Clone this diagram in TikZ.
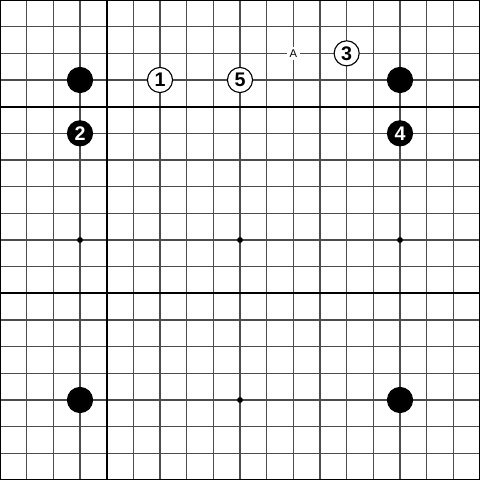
\documentclass[tikz,border=0pt]{standalone}
\usepackage{fontspec}
\setmainfont{Liberation Sans}
\begin{document}
\begin{tikzpicture}[x=0.5cm, y=0.5cm,
  gridline/.style={draw=black!70, line width=0.6pt},
  boldline/.style={draw=black, line width=1.1pt},
  stone/.style={circle, draw=black, line width=0.6pt, minimum size=4.7mm, inner sep=0pt, font=\fontsize{10.5}{11}\selectfont\bfseries},
  wstone/.style={stone, fill=white, text=black},
  bstone/.style={stone, fill=black, text=white},
  hoshi/.style={circle, fill=black, minimum size=1.1mm, inner sep=0pt},
  letter/.style={fill=white, inner sep=1.5pt, font=\fontsize{6}{6}\selectfont}]
  \useasboundingbox (0,0) rectangle (18,18);
  \fill[white] (0,0) rectangle (18,18);
  \foreach \i in {0,...,18} {
    \draw[gridline] (\i,0) -- (\i,18);
    \draw[gridline] (0,\i) -- (18,\i);
  }
  \draw[boldline] (4,0) -- (4,18);
  \draw[boldline] (0,14) -- (18,14);
  \draw[boldline] (0,7) -- (18,7);
  \draw[boldline] (0,0) rectangle (18,18);
  % star points
  \node[hoshi] (h1) at (3,9) {};
  \node[hoshi] (h2) at (9,9) {};
  \node[hoshi] (h3) at (15,9) {};
  \node[hoshi] (h4) at (9,3) {};
  % corner stones
  \node[bstone] (b1) at (3,15) {};
  \node[bstone] (b2) at (15,15) {};
  \node[bstone] (b3) at (3,3) {};
  \node[bstone] (b4) at (15,3) {};
  % numbered moves
  \node[wstone] (m1) at (6,15) {1};
  \node[bstone] (m2) at (3,13) {2};
  \node[wstone] (m3) at (13,16) {3};
  \node[bstone] (m4) at (15,13) {4};
  \node[wstone] (m5) at (9,15) {5};
  \node[letter] (a) at (11,16) {A};
\end{tikzpicture}
\end{document}
